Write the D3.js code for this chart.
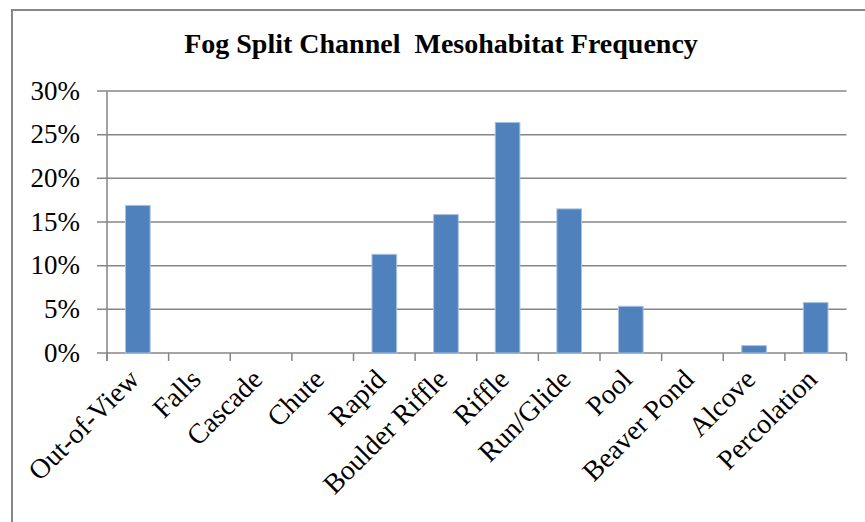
<!DOCTYPE html>
<html>
<head>
<meta charset="utf-8">
<script src="https://cdn.jsdelivr.net/npm/d3@7/dist/d3.min.js"></script>
<style>
  html, body { margin: 0; padding: 0; background: #fff; }
  svg { display: block; }
</style>
</head>
<body>
<svg id="chart" width="865" height="522"></svg>
<script>
const title = "Fog Split Channel  Mesohabitat Frequency";
const categories = ["Out-of-View", "Falls", "Cascade", "Chute", "Rapid", "Boulder Riffle",
  "Riffle", "Run/Glide", "Pool", "Beaver Pond", "Alcove", "Percolation"];
const values = [0.169, 0, 0, 0, 0.113, 0.1585, 0.264, 0.165, 0.0535, 0, 0.0085, 0.0577];
const yTicks = [0, 0.05, 0.10, 0.15, 0.20, 0.25, 0.30];

(function () {
const svg = d3.select("#chart");
const plotLeft = 107, plotRight = 846.5, plotTop = 91, plotBottom = 353;
const font = "'Liberation Serif', 'Times New Roman', serif";

// outer border
svg.append("rect")
  .attr("x", 12).attr("y", 10).attr("width", 870).attr("height", 530)
  .attr("fill", "#fff").attr("stroke", "#878787").attr("stroke-width", 2);

const x = d3.scaleBand().domain(categories).range([plotLeft, plotRight])
  .paddingInner(0.6).paddingOuter(0.3);
const y = d3.scaleLinear().domain([0, 0.30]).range([plotBottom, plotTop]);

// gridlines
svg.append("g").selectAll("line").data(yTicks).join("line")
  .attr("x1", plotLeft - 10).attr("x2", plotRight)
  .attr("y1", d => y(d)).attr("y2", d => y(d))
  .attr("stroke", "#868686").attr("stroke-width", 1.5);

// y axis line
svg.append("line").attr("x1", plotLeft).attr("x2", plotLeft)
  .attr("y1", plotTop).attr("y2", plotBottom + 8)
  .attr("stroke", "#868686").attr("stroke-width", 1.5);

// x ticks at category boundaries
const step = x.step();
const bounds = d3.range(categories.length + 1).map(i => plotLeft + i * step);
svg.append("g").selectAll("line").data(bounds).join("line")
  .attr("x1", d => d).attr("x2", d => d)
  .attr("y1", plotBottom).attr("y2", plotBottom + 8)
  .attr("stroke", "#868686").attr("stroke-width", 1.5);

// bars
svg.append("g").selectAll("rect").data(categories).join("rect")
  .attr("x", d => x(d))
  .attr("width", x.bandwidth())
  .attr("y", (d, i) => y(values[i]))
  .attr("height", (d, i) => y(0) - y(values[i]))
  .attr("fill", "#4F81BD")
  .attr("stroke", "#a9c1e0").attr("stroke-width", 1)
  .style("display", (d, i) => values[i] > 0 ? null : "none");

// y tick labels
svg.append("g").selectAll("text").data(yTicks).join("text")
  .attr("x", 80).attr("y", d => y(d) + 8.5)
  .attr("text-anchor", "end")
  .attr("font-family", font).attr("font-size", 27)
  .attr("fill", "#000")
  .text(d => d3.format(".0%")(d));

// x labels, rotated
svg.append("g").selectAll("text").data(categories).join("text")
  .attr("transform", d => `translate(${x(d) + x.bandwidth() / 2 + 3},381) rotate(-45)`)
  .attr("text-anchor", "end")
  .attr("font-family", font).attr("font-size", 28)
  .attr("fill", "#000")
  .text(d => d);

// title
svg.append("text")
  .attr("x", 441).attr("y", 53)
  .attr("text-anchor", "middle")
  .attr("font-family", font).attr("font-size", 28).attr("font-weight", "bold")
  .attr("fill", "#000")
  .style("white-space", "pre")
  .text(title);
})();
</script>
</body>
</html>
